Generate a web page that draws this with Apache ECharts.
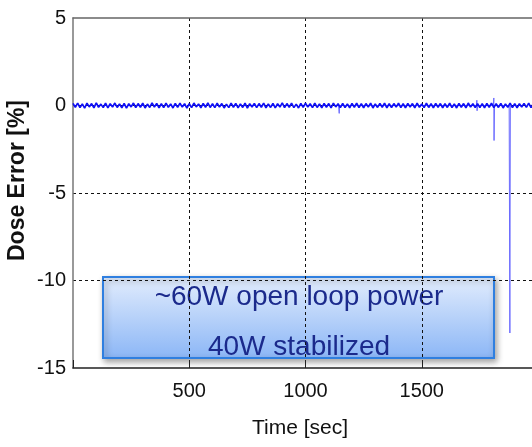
<!DOCTYPE html>
<html>
<head>
<meta charset="utf-8">
<script src="https://cdn.jsdelivr.net/npm/echarts@6/dist/echarts.min.js"></script>
<style>
html,body{margin:0;padding:0;background:#fff;}
#chart{width:532px;height:447px;}
</style>
</head>
<body>
<div id="chart"></div>
<script>
// Sample spacing of the dose error trace (seconds)
var sampleStep = 10;
// Dose error values [%], one per sample from t = 0 s to 2000 s
var doseError = [
 0.12,-0.10,0.14,-0.12,0.09,-0.15,0.13,-0.08,0.11,-0.13,0.15,-0.10,0.08,-0.12,0.13,-0.14,0.10,-0.09,0.14,-0.11,
 0.09,-0.13,0.12,-0.15,0.10,-0.08,0.14,-0.12,0.11,-0.10,0.13,-0.14,0.08,-0.11,0.15,-0.09,0.12,-0.13,0.10,-0.12,
 0.14,-0.10,0.09,-0.14,0.12,-0.11,0.13,-0.09,0.10,-0.15,0.11,-0.12,0.14,-0.08,0.09,-0.13,0.12,-0.10,0.15,-0.11,
 0.10,-0.12,0.13,-0.09,0.11,-0.14,0.08,-0.12,0.14,-0.10,0.12,-0.13,0.09,-0.11,0.13,-0.15,0.10,-0.09,0.12,-0.12,
 0.11,-0.10,0.14,-0.13,0.09,-0.11,0.12,-0.14,0.10,-0.09,0.15,-0.12,0.11,-0.10,0.13,-0.12,0.08,-0.14,0.12,-0.11,
 0.13,-0.09,0.10,-0.12,0.14,-0.11,0.09,-0.13,0.12,-0.10,0.11,-0.14,0.13,-0.08,0.10,-0.12,0.12,-0.12,0.09,-0.13,
 0.12,-0.10,0.14,-0.12,0.10,-0.13,0.11,-0.09,0.13,-0.14,0.09,-0.11,0.12,-0.10,0.14,-0.13,0.10,-0.12,0.11,-0.09,
 0.13,-0.12,0.10,-0.14,0.12,-0.09,0.11,-0.13,0.14,-0.10,0.09,-0.12,0.13,-0.11,0.10,-0.14,0.12,-0.10,0.11,-0.13,
 0.10,-0.11,0.13,-0.12,0.09,-0.14,0.12,-0.10,0.11,-0.13,0.14,-0.09,0.10,-0.12,0.11,-0.12,0.11,-0.13,0.12,-0.10,
 0.13,-0.12,0.10,-0.11,0.12,-0.14,0.09,-0.10,0.13,-0.12,0.11,-0.13,0.10,-0.09,0.12,-0.11,0.14,-0.12,0.10,-0.13,
 0.11
];
// Short excursions visible on the trace: [time s, value %]
var glitchTimes  = [1142, 1144, 1145, 1147, 1735, 1737, 1738, 1740, 1808, 1810, 1811, 1813, 1876, 1878, 1879, 1881];
var glitchValues = [0, 0.10, -0.45, 0, 0, 0.30, -0.30, 0, 0, 0.43, -2.0, 0, 0, 0.10, -13.0, 0];

var xTicks = [500, 1000, 1500];
var yTickLabels = ['-15', '-10', '-5', '0', '5'];

var annotationLines = ['~60W open loop power', '40W stabilized'];
var xTitle = 'Time [sec]';
var yTitle = 'Dose Error [%]';

var mainData = doseError.map(function (v, i) { return [i * sampleStep, v]; });
var glitchData = glitchTimes.map(function (t, i) { return [t, glitchValues[i]]; });

var sans = '"Liberation Sans", Arial, sans-serif';

var chart = echarts.init(document.getElementById('chart'), null, {renderer: 'canvas'});
chart.setOption({
  animation: false,
  backgroundColor: '#ffffff',
  grid: {left: 73, top: 18, width: 465, height: 350, containLabel: false, outerBoundsMode: 'none'},
  xAxis: [{
    type: 'value', min: 0, max: 2000, interval: 500,
    axisLine: {show: true, onZero: false, lineStyle: {color: '#222', width: 1.5}},
    axisTick: {show: true, inside: true, length: 8, lineStyle: {color: '#222'}},
    axisLabel: {
      color: '#111', fontFamily: sans, fontSize: 20, margin: 13,
      formatter: function (v) { return xTicks.indexOf(v) >= 0 ? String(v) : ''; }
    },
    splitLine: {show: true, showMinLine: false, showMaxLine: false, lineStyle: {color: '#111', type: [3, 3], width: 1}}
  }, {
    type: 'value', min: 0, max: 2000, interval: 500, position: 'top',
    axisLine: {show: true, onZero: false, lineStyle: {color: '#666', width: 1.5}},
    axisTick: {show: false}, axisLabel: {show: false}, splitLine: {show: false}
  }],
  yAxis: {
    type: 'value', min: -15, max: 5, interval: 5,
    axisLine: {show: true, onZero: false, lineStyle: {color: '#777', width: 1.5}},
    axisTick: {show: false},
    axisLabel: {
      color: '#111', fontFamily: sans, fontSize: 20, margin: 7,
      formatter: function (v) { return yTickLabels[Math.round((v + 15) / 5)]; }
    },
    splitLine: {show: true, showMinLine: false, showMaxLine: false, lineStyle: {color: '#111', type: [3, 3], width: 1}}
  },
  series: [{
    type: 'line', data: glitchData, showSymbol: false, symbol: 'none',
    lineStyle: {color: '#6b6bff', width: 1}, z: 2, silent: true
  }, {
    type: 'line', data: mainData, showSymbol: false, symbol: 'none',
    lineStyle: {color: '#1010f5', width: 1.7}, z: 3, silent: true
  }],
  graphic: [{
    type: 'text', left: 6, top: 100, rotation: Math.PI / 2,
    style: {text: yTitle, fill: '#111', font: 'bold 23px ' + sans}
  }, {
    type: 'text', left: 252, top: 418,
    style: {text: xTitle, fill: '#111', font: '21px ' + sans}
  }, {
    type: 'group', left: 102, top: 276,
    children: [{
      type: 'rect', shape: {x: 0, y: 0, width: 391, height: 81},
      style: {
        fill: new echarts.graphic.LinearGradient(0, 0, 0, 1, [
          {offset: 0, color: '#e3edfd'}, {offset: 1, color: '#8bb6f6'}
        ]),
        stroke: '#2f7fe0', lineWidth: 2,
        shadowBlur: 6, shadowOffsetX: 2, shadowOffsetY: 3, shadowColor: 'rgba(0,0,0,0.35)'
      }
    }, {
      type: 'text', x: 196, y: 20,
      style: {text: annotationLines[0], fill: '#1b2a8c', font: '28px ' + sans, textAlign: 'center', textVerticalAlign: 'middle'}
    }, {
      type: 'text', x: 196, y: 70,
      style: {text: annotationLines[1], fill: '#1b2a8c', font: '28px ' + sans, textAlign: 'center', textVerticalAlign: 'middle'}
    }]
  }]
});
</script>
</body>
</html>
